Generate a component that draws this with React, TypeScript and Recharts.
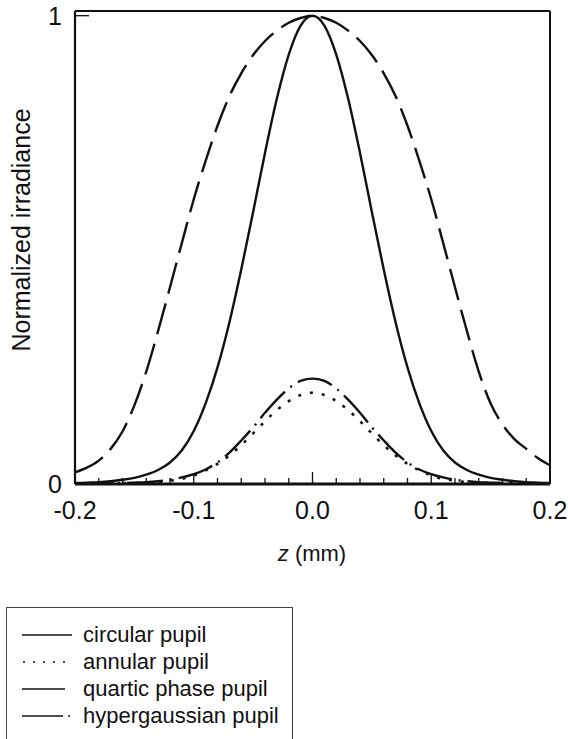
import { LineChart, Line, XAxis, YAxis, ReferenceLine } from 'recharts'

// axial position z (mm)
const Z_VALUES = [
  -0.2, -0.19, -0.18, -0.17, -0.16, -0.15, -0.14, -0.13, -0.12, -0.11, -0.1,
  -0.09, -0.08, -0.07, -0.06, -0.05, -0.04, -0.03, -0.02, -0.01, 0,
  0.01, 0.02, 0.03, 0.04, 0.05, 0.06, 0.07, 0.08, 0.09, 0.1,
  0.11, 0.12, 0.13, 0.14, 0.15, 0.16, 0.17, 0.18, 0.19, 0.2,
]

const CIRCULAR = [
  0.002, 0.003, 0.004, 0.006, 0.009, 0.013, 0.02, 0.03, 0.046, 0.072, 0.113,
  0.172, 0.249, 0.345, 0.458, 0.581, 0.707, 0.823, 0.917, 0.979, 1,
  0.979, 0.917, 0.823, 0.707, 0.581, 0.458, 0.345, 0.249, 0.172, 0.113,
  0.072, 0.046, 0.03, 0.02, 0.013, 0.009, 0.006, 0.004, 0.003, 0.002,
]

const ANNULAR = [
  0.001, 0.001, 0.001, 0.001, 0.002, 0.002, 0.003, 0.004, 0.007, 0.011, 0.018,
  0.029, 0.043, 0.061, 0.083, 0.108, 0.134, 0.158, 0.177, 0.19, 0.195,
  0.19, 0.177, 0.158, 0.134, 0.108, 0.083, 0.061, 0.043, 0.029, 0.018,
  0.011, 0.007, 0.004, 0.003, 0.002, 0.002, 0.001, 0.001, 0.001, 0.001,
]

const QUARTIC = [
  0.025, 0.035, 0.05, 0.075, 0.112, 0.168, 0.24, 0.327, 0.42, 0.515, 0.608,
  0.69, 0.765, 0.828, 0.877, 0.916, 0.946, 0.968, 0.985, 0.995, 1,
  0.995, 0.985, 0.968, 0.946, 0.916, 0.877, 0.828, 0.765, 0.69, 0.608,
  0.515, 0.42, 0.327, 0.24, 0.172, 0.127, 0.096, 0.075, 0.055, 0.04,
]

const HYPERGAUSSIAN = [
  0.001, 0.001, 0.001, 0.002, 0.002, 0.003, 0.004, 0.006, 0.009, 0.014, 0.021,
  0.031, 0.046, 0.067, 0.093, 0.121, 0.152, 0.18, 0.204, 0.22, 0.225,
  0.22, 0.204, 0.18, 0.152, 0.121, 0.093, 0.067, 0.046, 0.031, 0.021,
  0.014, 0.009, 0.006, 0.004, 0.003, 0.002, 0.002, 0.001, 0.001, 0.001,
]

const X_TICKS = [
  -0.2, -0.18, -0.16, -0.14, -0.12, -0.1, -0.08, -0.06, -0.04, -0.02, 0,
  0.02, 0.04, 0.06, 0.08, 0.1, 0.12, 0.14, 0.16, 0.18, 0.2,
]
const Y_TICKS = [0, 1]

const LEGEND = ['circular pupil', 'annular pupil', 'quartic phase pupil', 'hypergaussian pupil']

const FONT = '"Liberation Sans", Arial, Helvetica, sans-serif'
const INK = '#111'

const data = Z_VALUES.map((z, i) => ({
  z,
  circular: CIRCULAR[i],
  annular: ANNULAR[i],
  quartic: QUARTIC[i],
  hyper: HYPERGAUSSIAN[i],
}))

function XTick(props: any) {
  const { x, y, payload } = props
  const v = payload.value
  const major = Math.abs(v * 10 - Math.round(v * 10)) < 1e-6
  const isZero = Math.abs(v) < 1e-9
  return (
    <g>
      <line x1={x} x2={x} y1={y} y2={y - (isZero ? 12 : major ? 9 : 6)} stroke={INK} strokeWidth={1.3} />
      {major && (
        <text x={x} y={y + 35} textAnchor="middle" fontSize={25} fontFamily={FONT} fill={INK}>
          {v.toFixed(1)}
        </text>
      )}
    </g>
  )
}

function YTick(props: any) {
  const { x, y, payload } = props
  return (
    <g>
      {payload.value === 1 && <line x1={x} x2={x + 14} y1={y} y2={y} stroke={INK} strokeWidth={1.3} />}
      <text x={x - 13} y={y + 9} textAnchor="end" fontSize={25} fontFamily={FONT} fill={INK}>
        {payload.value}
      </text>
    </g>
  )
}

function LegendSymbol({ kind }: { kind: number }) {
  const y = 10
  if (kind === 0) return <line x1={0} x2={50} y1={y} y2={y} stroke={INK} strokeWidth={1.7} />
  if (kind === 1) return <line x1={1} x2={50} y1={y} y2={y} stroke={INK} strokeWidth={1.7} strokeDasharray="2 8" />
  if (kind === 2) return <line x1={0} x2={43} y1={y} y2={y} stroke={INK} strokeWidth={1.7} />
  return (
    <g>
      <line x1={0} x2={41} y1={y} y2={y} stroke={INK} strokeWidth={1.7} />
      <line x1={46} x2={48} y1={y} y2={y} stroke={INK} strokeWidth={1.7} />
    </g>
  )
}

export default function App() {
  return (
    <div style={{ position: 'absolute', left: 0, top: 0, width: 568, height: 739, background: '#fff', fontFamily: FONT, overflow: 'hidden' }}>
      <LineChart width={568} height={560} data={data} margin={{ top: 11, right: 18, bottom: 46, left: 35 }}>
        <XAxis
          dataKey="z"
          type="number"
          domain={[-0.2, 0.2]}
          ticks={X_TICKS}
          interval={0}
          height={30}
          tickSize={0}
          tickMargin={0}
          tickLine={false}
          axisLine={{ stroke: INK, strokeWidth: 2.8 }}
          tick={<XTick />}
        />
        <YAxis
          type="number"
          domain={[0, 1.01]}
          ticks={Y_TICKS}
          width={40}
          tickSize={0}
          tickMargin={0}
          tickLine={false}
          axisLine={{ stroke: INK, strokeWidth: 2.2 }}
          tick={<YTick />}
        />
        <ReferenceLine y={1.01} stroke={INK} strokeWidth={2} />
        <ReferenceLine x={0.2} stroke={INK} strokeWidth={2} />
        <Line type="monotone" dataKey="quartic" stroke={INK} strokeWidth={2.4} strokeDasharray="32 10" dot={false} isAnimationActive={false} />
        <Line type="monotone" dataKey="circular" stroke={INK} strokeWidth={2.4} dot={false} isAnimationActive={false} />
        <Line type="monotone" dataKey="hyper" stroke={INK} strokeWidth={2.4} strokeDasharray="36 7 2 7" dot={false} isAnimationActive={false} />
        <Line type="monotone" dataKey="annular" stroke={INK} strokeWidth={2.5} strokeDasharray="3 9" dot={false} isAnimationActive={false} />
      </LineChart>

      <div style={{ position: 'absolute', left: 8, top: 230, width: 0, height: 0 }}>
        <div
          style={{
            position: 'absolute', left: 0, top: 0, transform: 'translate(-50%, -50%) rotate(-90deg)',
            whiteSpace: 'nowrap', fontSize: 25, color: INK, lineHeight: '26px', marginLeft: 13,
          }}
        >
          Normalized irradiance
        </div>
      </div>

      <div style={{ position: 'absolute', left: 262, top: 541, width: 100, textAlign: 'center', fontSize: 22, color: INK, lineHeight: '26px' }}>
        <i>z</i> (mm)
      </div>

      <div
        style={{
          position: 'absolute', left: 6, top: 607, width: 287, height: 160,
          border: '1px solid #444', boxSizing: 'border-box',
        }}
      >
        {LEGEND.map((name, i) => (
          <div key={name} style={{ position: 'absolute', left: 15, top: 16 + i * 27, height: 22, display: 'flex', alignItems: 'center' }}>
            <svg width={52} height={20} style={{ display: 'block' }}>
              <LegendSymbol kind={i} />
            </svg>
            <span style={{ marginLeft: 9, fontSize: 22, color: INK, lineHeight: '22px' }}>{name}</span>
          </div>
        ))}
      </div>
    </div>
  )
}
